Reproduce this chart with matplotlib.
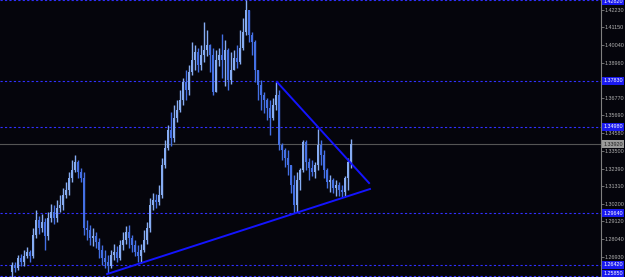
import numpy as np
import matplotlib
matplotlib.use("Agg")
import matplotlib.pyplot as plt
import matplotlib.transforms as mtransforms

# candle data (one bar per period)
first_open = 1.2599
closes = [1.2642, 1.2623, 1.2685, 1.2661, 1.2698, 1.2723, 1.2698, 1.2828, 1.2921, 1.2871,
          1.2909, 1.2822, 1.2933, 1.2971, 1.2933, 1.2995, 1.3014, 1.3076, 1.3107, 1.3181,
          1.3231, 1.3281, 1.3219, 1.3181, 1.2871, 1.2859, 1.2809, 1.2822, 1.2785, 1.2735,
          1.2685, 1.2661, 1.2636, 1.2704, 1.2723, 1.2685, 1.2766, 1.2797, 1.2847, 1.2809,
          1.2766, 1.2723, 1.2698, 1.2735, 1.2797, 1.2871, 1.3014, 1.3045, 1.3033, 1.3076,
          1.3262, 1.3367, 1.3479, 1.3429, 1.3553, 1.3603, 1.3665, 1.3777, 1.3727, 1.3839,
          1.3913, 1.3963, 1.3882, 1.3944, 1.3975, 1.4006, 1.3944, 1.3715, 1.3913, 1.3944,
          1.3913, 1.3975, 1.3789, 1.3851, 1.3925, 1.3901, 1.3987, 1.4087, 1.4223, 1.4068,
          1.4025, 1.3851, 1.3758, 1.3696, 1.3665, 1.3615, 1.3553, 1.3634, 1.3696, 1.3386,
          1.3355, 1.3305, 1.3262, 1.3138, 1.3014, 1.3169, 1.3231, 1.3405, 1.3281, 1.3243,
          1.3219, 1.3262, 1.3386, 1.3324, 1.3231, 1.3157, 1.3169, 1.3119, 1.3138, 1.3107,
          1.3095, 1.3181, 1.3281, 1.3392]
highs = [1.2661, 1.2661, 1.2704, 1.2710, 1.2735, 1.2754, 1.2735, 1.2871, 1.2983, 1.2946,
         1.2958, 1.2933, 1.2971, 1.3020, 1.3014, 1.3045, 1.3076, 1.3119, 1.3157, 1.3219,
         1.3293, 1.3324, 1.3293, 1.3243, 1.3219, 1.2921, 1.2890, 1.2871, 1.2847, 1.2809,
         1.2766, 1.2735, 1.2704, 1.2735, 1.2772, 1.2760, 1.2797, 1.2847, 1.2884, 1.2890,
         1.2828, 1.2797, 1.2766, 1.2772, 1.2859, 1.2909, 1.3057, 1.3088, 1.3082, 1.3138,
         1.3305, 1.3417, 1.3510, 1.3591, 1.3634, 1.3665, 1.3727, 1.3801, 1.3851, 1.3882,
         1.4025, 1.4006, 1.3987, 1.4006, 1.4149, 1.4099, 1.4012, 1.3987, 1.3975, 1.3987,
         1.4074, 1.4037, 1.3987, 1.3963, 1.3975, 1.4006, 1.4099, 1.4173, 1.4285, 1.4099,
         1.4087, 1.4037, 1.3801, 1.3789, 1.3715, 1.3677, 1.3665, 1.3677, 1.3777, 1.3727,
         1.3398, 1.3367, 1.3355, 1.3262, 1.3200, 1.3219, 1.3243, 1.3417, 1.3417, 1.3305,
         1.3293, 1.3281, 1.3485, 1.3417, 1.3355, 1.3243, 1.3200, 1.3181, 1.3169, 1.3157,
         1.3138, 1.3194, 1.3305, 1.3423]
lows = [1.2568, 1.2599, 1.2611, 1.2636, 1.2636, 1.2685, 1.2661, 1.2685, 1.2809, 1.2834,
        1.2847, 1.2735, 1.2797, 1.2909, 1.2896, 1.2909, 1.2971, 1.2983, 1.3057, 1.3076,
        1.3157, 1.3219, 1.3181, 1.3157, 1.2828, 1.2797, 1.2766, 1.2760, 1.2747, 1.2685,
        1.2642, 1.2623, 1.2592, 1.2623, 1.2673, 1.2661, 1.2673, 1.2735, 1.2772, 1.2747,
        1.2723, 1.2698, 1.2661, 1.2654, 1.2723, 1.2772, 1.2847, 1.2983, 1.2995, 1.3014,
        1.3057, 1.3243, 1.3355, 1.3380, 1.3405, 1.3529, 1.3591, 1.3634, 1.3665, 1.3696,
        1.3820, 1.3851, 1.3839, 1.3851, 1.3901, 1.3938, 1.3839, 1.3696, 1.3715, 1.3876,
        1.3801, 1.3752, 1.3727, 1.3764, 1.3851, 1.3863, 1.3888, 1.3975, 1.4068, 1.4025,
        1.3944, 1.3777, 1.3665, 1.3603, 1.3584, 1.3541, 1.3448, 1.3541, 1.3603, 1.3355,
        1.3293, 1.3250, 1.3200, 1.3088, 1.2964, 1.2971, 1.3107, 1.3219, 1.3231, 1.3169,
        1.3194, 1.3181, 1.3231, 1.3262, 1.3181, 1.3119, 1.3095, 1.3088, 1.3070, 1.3070,
        1.3064, 1.3070, 1.3107, 1.3243]

# trend lines: (bar index, price) anchor pairs
support_line = ([31.7, 119.3], [1.2586, 1.3113])
resist_line = ([88.3, 119.0], [1.3777, 1.3150])

# horizontal levels drawn on the chart
levels = [1.4282, 1.3783, 1.3498, 1.2964, 1.2642, 1.2574]
level_labels = ["1.42820", "1.37830", "1.34980", "1.29640", "1.26420", "1.25850"]

# price scale ticks
tick_prices = [1.42230, 1.41150, 1.40040, 1.38960, 1.36770, 1.35690, 1.34580,
               1.33500, 1.32390, 1.31310, 1.30200, 1.29120, 1.28040, 1.26930]

bg = "#05050c"
bull = "#86acf2"
bear = "#4470e4"
fnt = "Liberation Sans"
fs = 3.9

closes = np.array(closes)
opens = np.concatenate([[first_open], closes[:-1]])
highs = np.maximum(np.array(highs), np.maximum(opens, closes))
lows = np.minimum(np.array(lows), np.minimum(opens, closes))
idx = np.arange(len(closes))

fig = plt.figure(figsize=(6.25, 2.77), dpi=100, facecolor=bg)
ax = fig.add_axes([0, 0, 601 / 625, 1])
ax.set_facecolor(bg)

up = closes >= opens
colors = np.where(up, bull, bear)
ax.vlines(idx, lows, highs, colors=colors, linewidth=1.0, zorder=3)
body_lo = np.minimum(opens, closes)
body_h = np.maximum(np.abs(closes - opens), 0.0002)
ax.bar(idx, body_h, bottom=body_lo, width=0.8, color=colors, linewidth=0, zorder=3)

# horizontal dashed levels
for lv in levels:
    ax.axhline(lv, color="#3030ff", linestyle=(0, (2, 2)), linewidth=0.8, zorder=1)

# bid line
bid = closes[-1]
ax.axhline(bid, color="#555555", linewidth=0.8, zorder=1)

# trend lines
ax.plot(*support_line, color="#1414ff", linewidth=1.4, zorder=4)
ax.plot(*resist_line, color="#1414ff", linewidth=1.4, zorder=4)

ax.set_xlim(-4, 196.3)
ax.set_ylim(1.25675, 1.4285)

for s in ["top", "bottom", "left"]:
    ax.spines[s].set_visible(False)
ax.spines["right"].set_color("#808080")
ax.spines["right"].set_linewidth(0.8)
ax.set_xticks([])
ax.yaxis.tick_right()
ax.set_yticks(tick_prices)
ax.set_yticklabels(["%.5f" % p for p in tick_prices], family=fnt)
ax.tick_params(axis="y", colors="#808080", labelcolor="#b0b0b0", labelsize=fs,
               length=2, width=0.6, pad=0.8, direction="out")

trans = mtransforms.blended_transform_factory(ax.transAxes, ax.transData)
for lv, txt in zip(levels, level_labels):
    y = min(max(lv, 1.2590), 1.4275)
    ax.text(1.004, y, txt, transform=trans, fontsize=fs, color="white", family=fnt,
            va="center", ha="left", clip_on=False, zorder=6,
            bbox=dict(boxstyle="square,pad=0.2", fc="#1a1af0", ec="none"))
ax.text(1.004, bid, "%.5f" % bid, transform=trans, fontsize=fs, color="#202020", family=fnt,
        va="center", ha="left", clip_on=False, zorder=6,
        bbox=dict(boxstyle="square,pad=0.2", fc="#9a9a9a", ec="none"))

fig.savefig("out.png", dpi=100, facecolor=bg)
